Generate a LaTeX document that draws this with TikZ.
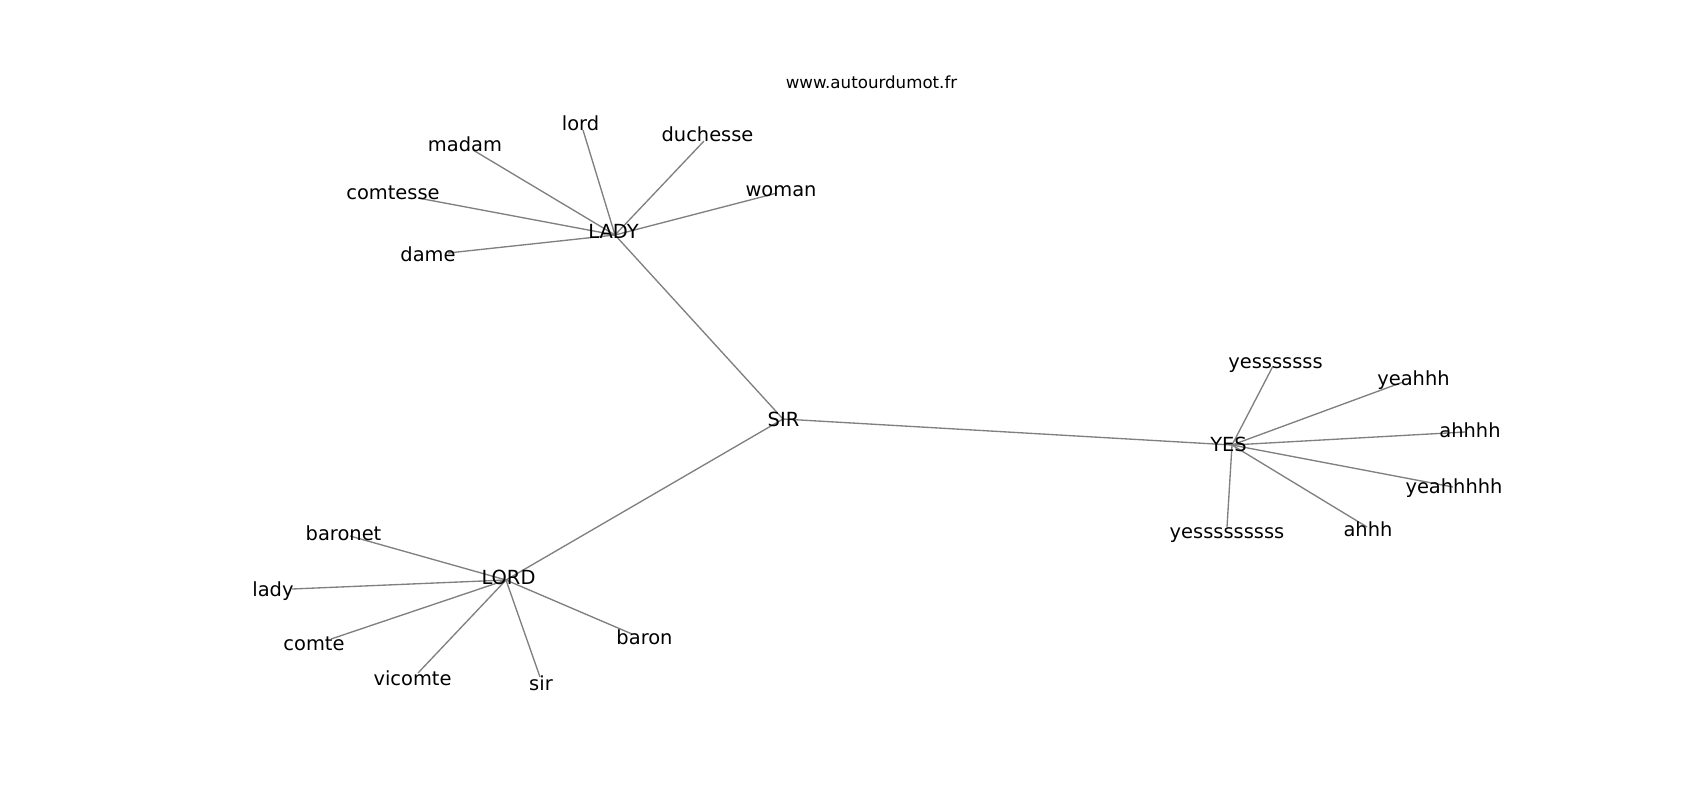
\documentclass[tikz,border=0pt]{standalone}
\usepackage{fontspec}
\setmainfont{DejaVu Sans}
\begin{document}
\begin{tikzpicture}[x=0.75bp,y=-0.75bp,
  lbl/.style={inner sep=0pt, outer sep=0pt, anchor=center, text=black,
    font=\fontsize{14.58bp}{17bp}\selectfont, text height=11.08bp, text depth=3.03bp},
  ttl/.style={inner sep=0pt, outer sep=0pt, anchor=center, text=black,
    font=\fontsize{12.5bp}{15bp}\selectfont, text height=9.5bp, text depth=2.6bp},
  edge/.style={draw=gray, line width=1bp}]
\useasboundingbox[fill=white] (0,0) rectangle (1700,800);
% line end points
\coordinate (hLADY) at (615,235);
\coordinate (hSIR) at (783,419);
\coordinate (hYES) at (1232,445);
\coordinate (hLORD) at (506,580);
\coordinate (e-lord) at (583,130);
\coordinate (e-madam) at (473,150);
\coordinate (e-duchesse) at (704,141);
\coordinate (e-comtesse) at (418,198);
\coordinate (e-dame) at (448,253);
\coordinate (e-woman) at (777,193);
\coordinate (e-yes7) at (1273,366);
\coordinate (e-yeahhh) at (1403,382);
\coordinate (e-ahhhh) at (1465,432);
\coordinate (e-yeahhhhh) at (1453,487);
\coordinate (e-ahhh) at (1367,527);
\coordinate (e-yes9) at (1227,527);
\coordinate (e-baronet) at (350,536);
\coordinate (e-lady) at (292,589);
\coordinate (e-comte) at (331,639);
\coordinate (e-vicomte) at (418,673);
\coordinate (e-sir) at (540,677);
\coordinate (e-baron) at (632,634);
% connectors
\draw[edge] (hSIR) -- (hLADY);
\draw[edge] (hSIR) -- (hYES);
\draw[edge] (hSIR) -- (hLORD);
\foreach \n in {lord,madam,duchesse,comtesse,dame,woman}
  \draw[edge] (hLADY) -- (e-\n);
\foreach \n in {yes7,yeahhh,ahhhh,yeahhhhh,ahhh,yes9}
  \draw[edge] (hYES) -- (e-\n);
\foreach \n in {baronet,lady,comte,vicomte,sir,baron}
  \draw[edge] (hLORD) -- (e-\n);
% labels
\node[ttl] (title) at (871.5,83.9) {www.autourdumot.fr};
\node[lbl] (SIR) at (783.5,420.8) {SIR};
\node[lbl] (LADY) at (613.5,233) {LADY};
\node[lbl] (YES) at (1228.5,445.8) {YES};
\node[lbl] (LORD) at (508.5,578.8) {LORD};
\node[lbl] (lord) at (580.5,125.5) {lord};
\node[lbl] (madam) at (465,146.5) {madam};
\node[lbl] (duchesse) at (707.5,136.5) {duchesse};
\node[lbl] (comtesse) at (393,194) {comtesse};
\node[lbl] (dame) at (428,256.5) {dame};
\node[lbl] (woman) at (781,190.8) {woman};
\node[lbl] (yes7) at (1275.5,363) {yesssssss};
\node[lbl] (yeahhh) at (1413.5,379.8) {yeahhh};
\node[lbl] (ahhhh) at (1470,432) {ahhhh};
\node[lbl] (yeahhhhh) at (1454,488) {yeahhhhh};
\node[lbl] (ahhh) at (1368,531.5) {ahhh};
\node[lbl] (yes9) at (1227,533) {yesssssssss};
\node[lbl] (baronet) at (343.5,535.5) {baronet};
\node[lbl] (lady) at (273,590.8) {lady};
\node[lbl] (comte) at (314,645.5) {comte};
\node[lbl] (vicomte) at (412.5,679.8) {vicomte};
\node[lbl] (sir) at (541,684.8) {sir};
\node[lbl] (baron) at (644.5,638.8) {baron};
\end{tikzpicture}
\end{document}
